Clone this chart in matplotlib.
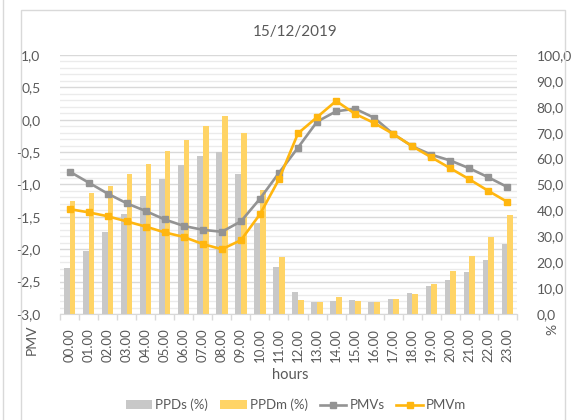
import numpy as np
import matplotlib.pyplot as plt
from matplotlib.ticker import FuncFormatter, FixedLocator
from matplotlib.patches import Rectangle
from matplotlib.lines import Line2D

plt.rcParams['font.family'] = ['Lato', 'DejaVu Sans']

hours = [f"{h:02d}.00" for h in range(24)]

# PPD (%) per hour - right axis
ppd_s = [17.8, 24.5, 31.7, 38.7, 45.7, 52.2, 57.5, 61.0, 62.4, 54.1, 35.3, 18.3,
         8.4, 4.8, 5.0, 5.4, 4.8, 5.7, 8.2, 10.8, 13.1, 16.3, 20.8, 27.0]
ppd_m = [43.8, 46.6, 49.4, 54.1, 57.9, 62.9, 67.0, 72.6, 76.4, 69.8, 47.9, 22.1,
         5.4, 4.8, 6.6, 4.9, 4.8, 5.8, 7.7, 11.6, 16.5, 22.4, 29.7, 38.1]

# PMV per hour - left axis
pmv_s = [-0.80, -0.97, -1.14, -1.29, -1.41, -1.54, -1.64, -1.70, -1.73, -1.57, -1.22, -0.82,
         -0.43, -0.03, 0.13, 0.17, 0.03, -0.22, -0.41, -0.54, -0.63, -0.75, -0.89, -1.04]
pmv_m = [-1.38, -1.43, -1.49, -1.57, -1.65, -1.74, -1.81, -1.92, -2.00, -1.86, -1.46, -0.92,
         -0.21, 0.04, 0.29, 0.09, -0.05, -0.22, -0.41, -0.58, -0.75, -0.92, -1.10, -1.27]

text_col = '#595959'
grey_bar = '#C8C8C8'
gold_bar = '#FFD466'
grey_line = '#939393'
gold_line = '#FFB60F'

comma = FuncFormatter(lambda v, p: f"{v:.1f}".replace('.', ','))

fig = plt.figure(figsize=(5.8, 4.2), dpi=100)

# chart frame
fig.patches.append(Rectangle((21 / 580, -0.1), 544 / 580, 1.1 - 10 / 420,
                             transform=fig.transFigure, fill=False,
                             edgecolor='#D9D9D9', linewidth=1))
fig.add_artist(Line2D([2.5 / 580, 2.5 / 580], [0, 1], transform=fig.transFigure,
                      color='#D9D9D9', linewidth=1))

ax = fig.add_axes([60 / 580, 1 - 314 / 420, 457 / 580, 259 / 420])
ax2 = ax.twinx()
x = np.arange(len(hours))
w = 0.3

# gridlines follow the PMV scale (0.5 major, 0.1 minor)
for v in np.arange(-3.0, 1.001, 0.1):
    pct = (v + 3.0) * 25
    major = abs(v * 2 - round(v * 2)) < 1e-6
    ax.axhline(pct, color='#D9D9D9' if major else '#EBEBEB', linewidth=1.0, zorder=0)

ax.bar(x - w / 2, ppd_s, w, color=grey_bar, label='PPDs (%)', zorder=2)
ax.bar(x + w / 2, ppd_m, w, color=gold_bar, label='PPDm (%)', zorder=2)
ax.set_ylim(0, 100)
ax.set_xlim(-0.5, len(hours) - 0.5)
ax.set_yticks(np.arange(0, 101, 10))
ax.yaxis.tick_right()
ax.yaxis.set_major_formatter(comma)
ax.tick_params(axis='y', length=0, pad=14, labelsize=10, labelcolor=text_col)

ax.set_xticks(x)
ax.set_xticklabels(hours, rotation=90)
ax.xaxis.set_minor_locator(FixedLocator(np.arange(-0.5, len(hours), 1)))
ax.tick_params(axis='x', which='major', length=0, pad=10, labelsize=9.5, labelcolor=text_col)
ax.tick_params(axis='x', which='minor', length=4, color='#D9D9D9', width=1)
for s in ['top', 'left', 'right']:
    ax.spines[s].set_visible(False)
ax.spines['bottom'].set_color('#D9D9D9')

ax2.plot(x, pmv_s, color=grey_line, linewidth=1.9, marker='s', markersize=5, label='PMVs')
ax2.plot(x, pmv_m, color=gold_line, linewidth=1.9, marker='s', markersize=5, label='PMVm')
ax2.set_ylim(-3, 1)
ax2.set_yticks(np.arange(-3, 1.01, 0.5))
ax2.yaxis.tick_left()
ax2.yaxis.set_major_formatter(comma)
ax2.tick_params(axis='y', length=0, pad=14, labelsize=10, labelcolor=text_col)
for s in ax2.spines.values():
    s.set_visible(False)

fig.text(295 / 580, 1 - 32 / 420, '15/12/2019', ha='center', va='center',
         fontsize=11, color=text_col)
fig.text(32 / 580, 1 - 340 / 420, 'PMV', rotation=90, ha='center', va='center',
         fontsize=10, color=text_col)
fig.text(552 / 580, 1 - 329 / 420, '%', rotation=90, ha='center', va='center',
         fontsize=10, color=text_col)
fig.text(290 / 580, 1 - 375 / 420, 'hours', ha='center', va='center',
         fontsize=10.5, color=text_col)

h1, l1 = ax.get_legend_handles_labels()
h2, l2 = ax2.get_legend_handles_labels()
fig.legend(h1 + h2, l1 + l2, loc='center', bbox_to_anchor=(296 / 580, 1 - 405 / 420),
           ncol=4, frameon=False, fontsize=9.5, handlelength=2.0, handletextpad=0.25,
           columnspacing=0.9, labelcolor=text_col)

fig.savefig('out.png', dpi=100)
